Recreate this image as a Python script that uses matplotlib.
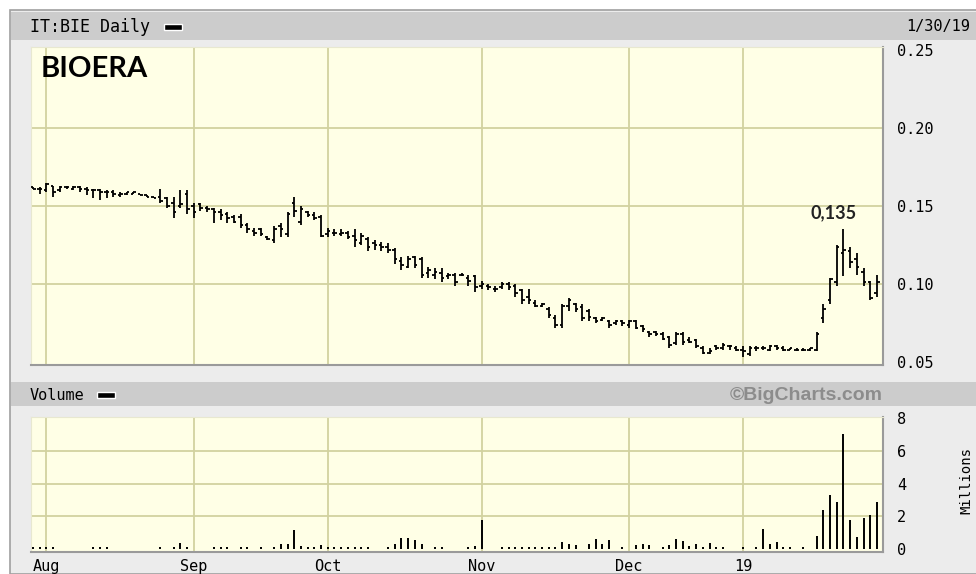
import matplotlib
matplotlib.use('Agg')
import matplotlib.pyplot as plt
from matplotlib.patches import Rectangle
import pandas as pd

# giorni di borsa (Borsa Italiana), dal 30/7/2018 al 30/1/2019
festivi = ['2018-08-15', '2018-12-24', '2018-12-25', '2018-12-26', '2018-12-31', '2019-01-01']
giorni = pd.bdate_range('2018-07-30', '2019-01-30')
giorni = giorni[~giorni.isin(pd.to_datetime(festivi))]

etichette_mesi = ['Aug', 'Sep', 'Oct', 'Nov', 'Dec', '19']

aperture = [0.162, 0.161, 0.160, 0.163, 0.160, 0.162, 0.161, 0.162, 0.161, 0.160,
            0.160, 0.159, 0.159, 0.157, 0.158, 0.158, 0.158, 0.157, 0.156, 0.156,
            0.155, 0.152, 0.150, 0.158, 0.150, 0.151, 0.149, 0.148, 0.146, 0.145,
            0.143, 0.143, 0.138, 0.134, 0.135, 0.130, 0.128, 0.137, 0.132, 0.152,
            0.140, 0.146, 0.144, 0.143, 0.132, 0.133, 0.132, 0.133, 0.131, 0.126,
            0.129, 0.126, 0.125, 0.124, 0.122, 0.115, 0.111, 0.117, 0.116, 0.107,
            0.106, 0.107, 0.105, 0.106, 0.106, 0.104, 0.105, 0.099, 0.099, 0.097,
            0.098, 0.100, 0.099, 0.096, 0.092, 0.088, 0.086, 0.084, 0.078, 0.074,
            0.086, 0.087, 0.085, 0.083, 0.078, 0.077, 0.076, 0.075, 0.076, 0.074,
            0.076, 0.073, 0.069, 0.069, 0.068, 0.066, 0.062, 0.068, 0.064, 0.064,
            0.059, 0.056, 0.060, 0.059, 0.060, 0.059, 0.058, 0.055, 0.059, 0.059,
            0.058, 0.060, 0.059, 0.058, 0.058, 0.058, 0.058, 0.058, 0.078, 0.090,
            0.101, 0.120, 0.121, 0.116, 0.108, 0.101, 0.094]
massimi = [0.162, 0.162, 0.165, 0.163, 0.163, 0.163, 0.163, 0.163, 0.162, 0.161,
           0.161, 0.160, 0.160, 0.159, 0.159, 0.159, 0.158, 0.157, 0.156, 0.161,
           0.156, 0.156, 0.160, 0.160, 0.152, 0.152, 0.150, 0.149, 0.148, 0.146,
           0.144, 0.145, 0.139, 0.136, 0.136, 0.131, 0.137, 0.139, 0.146, 0.156,
           0.150, 0.147, 0.146, 0.144, 0.136, 0.135, 0.135, 0.134, 0.135, 0.133,
           0.130, 0.128, 0.127, 0.126, 0.123, 0.117, 0.118, 0.118, 0.117, 0.111,
           0.110, 0.110, 0.107, 0.107, 0.107, 0.106, 0.106, 0.102, 0.100, 0.099,
           0.101, 0.101, 0.100, 0.097, 0.097, 0.090, 0.088, 0.085, 0.080, 0.087,
           0.091, 0.088, 0.087, 0.084, 0.079, 0.079, 0.077, 0.077, 0.077, 0.077,
           0.077, 0.074, 0.070, 0.070, 0.069, 0.067, 0.069, 0.069, 0.066, 0.065,
           0.060, 0.059, 0.061, 0.062, 0.061, 0.060, 0.060, 0.060, 0.060, 0.060,
           0.061, 0.061, 0.060, 0.059, 0.059, 0.059, 0.059, 0.069, 0.087, 0.104,
           0.125, 0.135, 0.124, 0.120, 0.110, 0.102, 0.106]
minimi = [0.161, 0.158, 0.159, 0.156, 0.159, 0.161, 0.160, 0.159, 0.157, 0.155,
          0.154, 0.155, 0.156, 0.156, 0.157, 0.158, 0.157, 0.156, 0.155, 0.152,
          0.149, 0.142, 0.149, 0.145, 0.142, 0.147, 0.146, 0.139, 0.141, 0.139,
          0.139, 0.136, 0.133, 0.131, 0.131, 0.128, 0.126, 0.130, 0.130, 0.143,
          0.138, 0.143, 0.141, 0.130, 0.130, 0.131, 0.131, 0.129, 0.124, 0.125,
          0.121, 0.122, 0.121, 0.120, 0.113, 0.109, 0.110, 0.110, 0.104, 0.104,
          0.103, 0.101, 0.103, 0.099, 0.105, 0.099, 0.095, 0.097, 0.096, 0.095,
          0.097, 0.096, 0.092, 0.087, 0.087, 0.085, 0.085, 0.078, 0.072, 0.072,
          0.083, 0.082, 0.076, 0.076, 0.075, 0.076, 0.072, 0.074, 0.073, 0.072,
          0.071, 0.069, 0.066, 0.067, 0.064, 0.059, 0.061, 0.061, 0.062, 0.059,
          0.055, 0.055, 0.058, 0.058, 0.058, 0.057, 0.053, 0.054, 0.057, 0.058,
          0.057, 0.058, 0.057, 0.058, 0.057, 0.057, 0.057, 0.057, 0.075, 0.087,
          0.099, 0.105, 0.110, 0.106, 0.099, 0.090, 0.092]
chiusure = [0.161, 0.161, 0.164, 0.159, 0.162, 0.162, 0.162, 0.161, 0.160, 0.160,
            0.159, 0.159, 0.158, 0.158, 0.159, 0.159, 0.157, 0.156, 0.155, 0.153,
            0.150, 0.146, 0.151, 0.148, 0.146, 0.149, 0.148, 0.146, 0.144, 0.142,
            0.140, 0.138, 0.135, 0.133, 0.132, 0.129, 0.135, 0.135, 0.145, 0.147,
            0.148, 0.144, 0.142, 0.131, 0.134, 0.133, 0.133, 0.130, 0.128, 0.131,
            0.124, 0.125, 0.124, 0.122, 0.116, 0.112, 0.116, 0.112, 0.106, 0.109,
            0.108, 0.104, 0.106, 0.101, 0.106, 0.102, 0.098, 0.100, 0.098, 0.097,
            0.100, 0.098, 0.094, 0.090, 0.090, 0.086, 0.087, 0.080, 0.074, 0.086,
            0.090, 0.084, 0.078, 0.079, 0.076, 0.078, 0.074, 0.076, 0.075, 0.076,
            0.072, 0.071, 0.068, 0.068, 0.065, 0.061, 0.068, 0.063, 0.063, 0.060,
            0.056, 0.057, 0.059, 0.061, 0.060, 0.058, 0.057, 0.059, 0.059, 0.059,
            0.060, 0.059, 0.058, 0.059, 0.058, 0.058, 0.059, 0.068, 0.084, 0.103,
            0.124, 0.122, 0.114, 0.111, 0.101, 0.091, 0.101]

# volumi in milioni
volumi = [0.15, 0.12, 0.15, 0.10, 0, 0, 0, 0, 0, 0.12,
          0.10, 0.12, 0, 0, 0, 0, 0, 0, 0, 0.12,
          0, 0.15, 0.35, 0.10, 0, 0, 0, 0.15, 0.12, 0.15,
          0, 0.15, 0.12, 0, 0.12, 0, 0.15, 0.30, 0.30, 1.15,
          0.20, 0.15, 0.10, 0.25, 0.10, 0.10, 0.10, 0.10, 0.10, 0.10,
          0.10, 0, 0, 0.15, 0.30, 0.70, 0.70, 0.55, 0.30, 0,
          0.12, 0.15, 0, 0, 0, 0.10, 0.20, 1.75, 0, 0,
          0.10, 0.12, 0.10, 0.12, 0.15, 0.15, 0.15, 0.12, 0.10, 0.45,
          0.30, 0.25, 0, 0.30, 0.60, 0.30, 0.55, 0, 0.12, 0,
          0.25, 0.30, 0.25, 0, 0.15, 0.25, 0.60, 0.50, 0.20, 0.30,
          0.12, 0.35, 0.15, 0.10, 0, 0, 0.15, 0, 0.10, 1.25,
          0.30, 0.40, 0.15, 0.10, 0, 0.12, 0, 0.80, 2.40, 3.30,
          2.90, 7.00, 1.80, 0.75, 1.90, 2.10, 2.90]

W, H = 976, 574
sfondo = '#ececec'
barra = '#cccccc'
pannello = '#ffffe6'
griglia = '#d2d2a0'
mono = 'DejaVu Sans Mono'


def rett(sx, alto, dx, basso):
    return [sx / W, 1 - basso / H, (dx - sx) / W, (basso - alto) / H]


fig = plt.figure(figsize=(W / 100, H / 100), dpi=100, facecolor='white')

# cornice grigia e barre dei titoli (sotto gli assi)
fig.patches.append(Rectangle((10 / W, 0), 1, 1 - 10 / H, transform=fig.transFigure,
                             facecolor=sfondo, edgecolor='#a0a0a0', lw=1.2, zorder=-3))
fig.patches.append(Rectangle((11 / W, 1 - 40 / H), 1, 28 / H, transform=fig.transFigure,
                             facecolor=barra, edgecolor='none', zorder=-2))
fig.patches.append(Rectangle((11 / W, 1 - 406 / H), 1, 24 / H, transform=fig.transFigure,
                             facecolor=barra, edgecolor='none', zorder=-2))

fig.text(30 / W, 1 - 27 / H, 'IT:BIE Daily', fontsize=12, family=mono, va='center')
fig.patches.append(Rectangle((164 / W, 1 - 30 / H), 18 / W, 6 / H, transform=fig.transFigure,
                             facecolor='black', edgecolor='white', lw=1))
fig.text(970 / W, 1 - 27 / H, '1/30/19', fontsize=11, family=mono, va='center', ha='right')

fig.text(30 / W, 1 - 395 / H, 'Volume', fontsize=11, family=mono, va='center')
fig.patches.append(Rectangle((97 / W, 1 - 398 / H), 18 / W, 6 / H, transform=fig.transFigure,
                             facecolor='black', edgecolor='white', lw=1))
fig.text(883 / W, 1 - 395 / H, '©BigCharts.com', fontsize=14, family='Liberation Sans',
         weight='bold', color='#8c8c8c', va='center', ha='right')

x = list(range(len(giorni)))
pos_mesi = [i for i in range(1, len(giorni)) if giorni[i].month != giorni[i - 1].month]
x_min, x_max = -0.3, 126.9

# pannello prezzi
ax = fig.add_axes(rett(31, 47, 883, 365))
ax.set_facecolor(pannello)
ax.set_xlim(x_min, x_max)
ax.set_ylim(0.0481, 0.2519)
for m in pos_mesi:
    ax.axvline(m, color=griglia, lw=1.3, zorder=1)
for livello in [0.10, 0.15, 0.20]:
    ax.axhline(livello, color=griglia, lw=1.3, zorder=1)

ax.vlines(x, minimi, massimi, color='black', lw=1.3, zorder=3)
ax.hlines(aperture, [i - 0.38 for i in x], x, color='black', lw=1.3, zorder=3)
ax.hlines(chiusure, x, [i + 0.38 for i in x], color='black', lw=1.3, zorder=3)

ax.set_xticks([])
ax.set_yticks([0.05, 0.10, 0.15, 0.20, 0.25])
ax.set_yticklabels(['0.05', '0.10', '0.15', '0.20', '0.25'])
ax.yaxis.tick_right()
ax.tick_params(axis='y', length=0, pad=10, labelsize=11)
for t in ax.get_yticklabels():
    t.set_family(mono)
for lato in ['top', 'left']:
    ax.spines[lato].set_color('#e8e8d0')
for lato in ['bottom', 'right']:
    ax.spines[lato].set_color('#9a9a9a')
    ax.spines[lato].set_linewidth(1.5)

ax.text(0.011, 0.93, 'BIOERA', transform=ax.transAxes, fontsize=21, family='Lato',
        weight='bold', va='center', ha='left')

# massimo del rialzo di gennaio
ultimi = range(len(massimi) - 20, len(massimi))
i_picco = max(ultimi, key=lambda i: massimi[i])
ax.annotate(f'{massimi[i_picco]:.3f}'.replace('.', ','), (i_picco, massimi[i_picco]),
            textcoords='offset points', xytext=(-7, 6), ha='center', va='bottom',
            fontsize=13, family='Lato', weight='bold', color='#222222')

# pannello volumi
av = fig.add_axes(rett(31, 417, 883, 552))
av.set_facecolor(pannello)
av.set_xlim(x_min, x_max)
av.set_ylim(-0.18, 8.06)
for m in pos_mesi:
    av.axvline(m, color=griglia, lw=1.3, zorder=1)
for livello in [2, 4, 6]:
    av.axhline(livello, color=griglia, lw=1.3, zorder=1)
av.vlines(x, 0, volumi, color='black', lw=1.4, zorder=3)

av.set_yticks([0, 2, 4, 6, 8])
av.yaxis.tick_right()
av.tick_params(axis='y', length=0, pad=10, labelsize=11)
av.set_xticks(pos_mesi)
av.set_xticklabels(etichette_mesi)
av.tick_params(axis='x', length=0, pad=5, labelsize=11)
for t in av.get_yticklabels() + av.get_xticklabels():
    t.set_family(mono)
for lato in ['top', 'left']:
    av.spines[lato].set_color('#e8e8d0')
for lato in ['bottom', 'right']:
    av.spines[lato].set_color('#9a9a9a')
    av.spines[lato].set_linewidth(1.5)

fig.text(966 / W, 1 - 480 / H, 'Millions', rotation=90, fontsize=10, family=mono,
         va='center', ha='center')

fig.savefig('out.png', dpi=100, facecolor=fig.get_facecolor())
plt.close(fig)
